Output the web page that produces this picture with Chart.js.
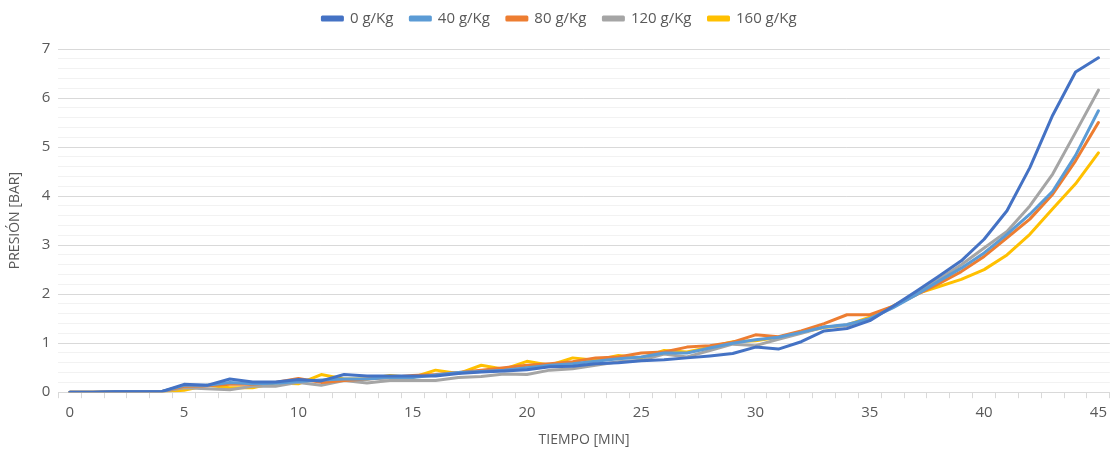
<!DOCTYPE html>
<html>
<head>
<meta charset="utf-8">
<script src="https://cdn.jsdelivr.net/npm/chart.js@4/dist/chart.umd.min.js"></script>
<style>
  html, body { margin: 0; padding: 0; background: #fff; }
  #wrap { width: 1113px; height: 452px; }
</style>
</head>
<body>
<div id="wrap"><canvas id="chart"></canvas></div>
<script>
// minutes 0..45
const minutes = Array.from({ length: 46 }, (_, i) => String(i))

const seriesNames = ['0 g/Kg', '40 g/Kg', '80 g/Kg', '120 g/Kg', '160 g/Kg']
const seriesColors = ['#4472C4', '#5B9BD5', '#ED7D31', '#A5A5A5', '#FFC000']

const p0 = [0,0,0.01,0.01,0.01,0.16,0.14,0.27,0.21,0.21,0.26,0.23,0.36,0.33,0.33,0.33,0.33,0.38,0.41,0.43,0.46,0.52,0.53,0.58,0.6,0.64,0.66,0.7,0.74,0.79,0.92,0.88,1.03,1.25,1.3,1.46,1.75,2.05,2.36,2.68,3.12,3.7,4.58,5.65,6.53,6.82]
const p40 = [0,0,0.01,0.01,0.01,0.14,0.14,0.2,0.17,0.18,0.22,0.25,0.27,0.27,0.3,0.3,0.35,0.4,0.42,0.45,0.5,0.55,0.58,0.63,0.68,0.72,0.8,0.8,0.9,1.0,1.07,1.12,1.22,1.33,1.38,1.5,1.72,1.98,2.26,2.53,2.84,3.22,3.63,4.1,4.83,5.74]
const p80 = [0,0,0.01,0.01,0.01,0.12,0.13,0.16,0.16,0.2,0.28,0.2,0.24,0.27,0.3,0.34,0.36,0.4,0.45,0.5,0.55,0.58,0.62,0.7,0.72,0.8,0.82,0.92,0.95,1.02,1.17,1.13,1.25,1.4,1.58,1.58,1.75,1.98,2.21,2.46,2.77,3.15,3.53,4.04,4.72,5.5]
const p120 = [0,0,0.01,0.01,0.01,0.09,0.07,0.05,0.12,0.12,0.2,0.14,0.24,0.19,0.24,0.24,0.24,0.3,0.32,0.37,0.36,0.45,0.48,0.55,0.62,0.65,0.78,0.72,0.85,0.98,0.95,1.08,1.2,1.33,1.36,1.5,1.73,2.0,2.3,2.6,2.94,3.28,3.8,4.45,5.3,6.16]
const p160 = [0,0,0.01,0.01,0.01,0.04,0.14,0.09,0.09,0.19,0.17,0.36,0.27,0.27,0.34,0.3,0.45,0.38,0.55,0.47,0.63,0.55,0.7,0.65,0.75,0.7,0.85,0.82,0.92,1.03,1.05,1.12,1.22,1.32,1.37,1.53,1.75,2.0,2.15,2.3,2.5,2.8,3.22,3.74,4.25,4.88]

const seriesValues = [p0, p40, p80, p120, p160]

const fontFam = '"Open Sans", sans-serif'
const textCol = '#595959'

const datasets = seriesNames.map((name, i) => ({
  label: name,
  data: seriesValues[i],
  borderColor: seriesColors[i],
  backgroundColor: seriesColors[i],
  borderWidth: 3,
  borderJoinStyle: 'round',
  borderCapStyle: 'round',
  pointRadius: 0,
  tension: 0,
  fill: false
}))

// extra room under the legend
const legendGap = {
  id: 'legendGap',
  beforeInit(chart) {
    const origFit = chart.legend.fit
    chart.legend.fit = function () {
      origFit.bind(chart.legend)()
      this.height += 13
    }
  }
}

const ctx = document.getElementById('chart').getContext('2d')

new Chart(ctx, {
  type: 'line',
  data: { labels: minutes, datasets: datasets },
  plugins: [legendGap],
  options: {
    responsive: true,
    maintainAspectRatio: false,
    animation: false,
    layout: { padding: { left: 7, right: 1, top: -6, bottom: 4 } },
    plugins: {
      legend: {
        position: 'top',
        labels: {
          boxWidth: 20,
          boxHeight: 3,
          padding: 17,
          color: textCol,
          font: { family: fontFam, size: 15 }
        }
      },
      tooltip: { enabled: false }
    },
    scales: {
      x: {
        offset: true,
        grid: {
          offset: true,
          drawOnChartArea: false,
          drawTicks: true,
          tickLength: 6,
          color: '#D9D9D9'
        },
        border: { color: '#D9D9D9' },
        ticks: {
          autoSkip: false,
          maxRotation: 0,
          padding: 6,
          color: textCol,
          font: { family: fontFam, size: 15 },
          callback: function (val, idx) { return idx % 5 === 0 ? this.getLabelForValue(val) : '' }
        },
        title: {
          display: true,
          text: 'TIEMPO [MIN]',
          color: textCol,
          font: { family: fontFam, size: 14 },
          padding: { top: 3, bottom: 0 }
        }
      },
      y: {
        min: 0,
        max: 7,
        grid: {
          drawTicks: false,
          color: (c) => {
            const v = c.tick ? c.tick.value : 0
            return Math.abs(v - Math.round(v)) < 1e-6 ? '#D9D9D9' : '#F2F2F2'
          }
        },
        border: { display: false },
        ticks: {
          stepSize: 0.2,
          autoSkip: false,
          padding: 8,
          color: textCol,
          font: { family: fontFam, size: 15 },
          callback: (v) => Math.abs(v - Math.round(v)) < 1e-6 ? String(Math.round(v)) : ''
        },
        title: {
          display: true,
          text: 'PRESIÓN [BAR]',
          color: textCol,
          font: { family: fontFam, size: 14 },
          padding: { top: 0, bottom: 10 }
        }
      }
    }
  }
})
</script>
</body>
</html>
